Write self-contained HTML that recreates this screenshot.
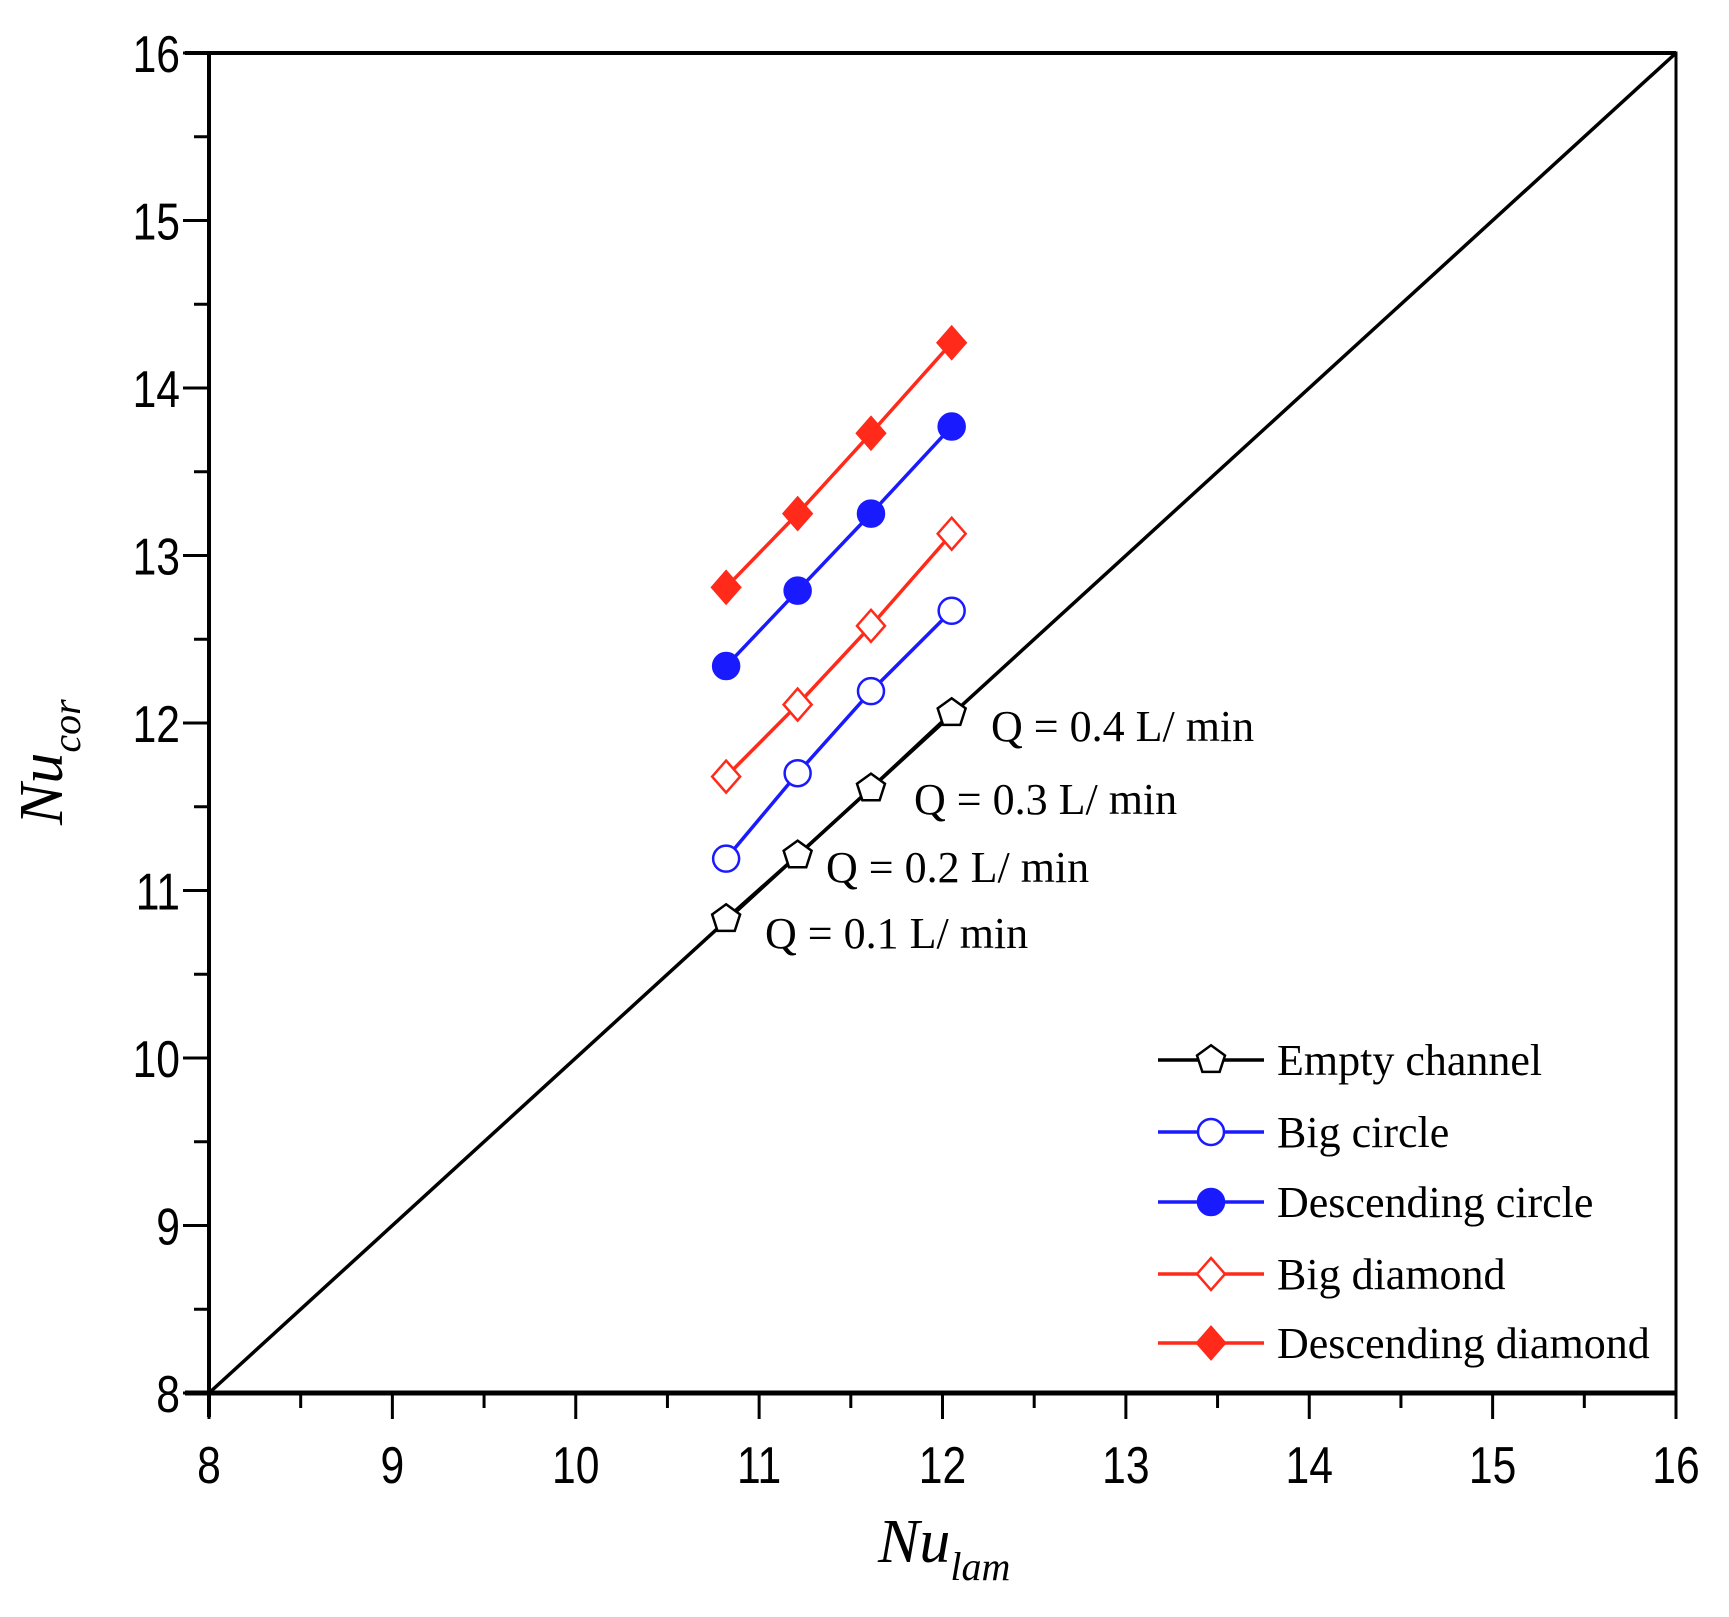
<!DOCTYPE html>
<html><head><meta charset="utf-8"><style>
body{margin:0;background:#fff}
svg text{font-family:"Liberation Serif",serif}
.tick{font-family:"Liberation Sans",sans-serif;font-size:52px}
</style></head><body>
<svg id="chart" width="1729" height="1612" xmlns="http://www.w3.org/2000/svg">
<g id="axes"></g>
<g id="series"></g>
<g id="legend"></g>
</svg>
<script>
const xTicks=[8,9,10,11,12,13,14,15,16];
const yTicks=[8,9,10,11,12,13,14,15,16];
const xVals=[10.82,11.21,11.61,12.05];
const emptyY=[10.83,11.21,11.61,12.06];
const bigCircleY=[11.19,11.70,12.19,12.67];
const descCircleY=[12.34,12.79,13.25,13.77];
const bigDiamondY=[11.68,12.11,12.58,13.13];
const descDiamondY=[12.81,13.25,13.73,14.27];
const flowLabels=["Q = 0.1 L/ min","Q = 0.2 L/ min","Q = 0.3 L/ min","Q = 0.4 L/ min"];
const seriesNames=["Empty channel","Big circle","Descending circle","Big diamond","Descending diamond"];

const L=209,R=1676,T=53,B=1393;
const X=v=>L+(v-8)/8*(R-L);
const Y=v=>B-(v-8)/8*(B-T);
const NS="http://www.w3.org/2000/svg";
function mk(tag,attrs,parent){const e=document.createElementNS(NS,tag);for(const k in attrs)e.setAttribute(k,attrs[k]);parent.appendChild(e);return e;}
const ax=document.getElementById('axes'),sg=document.getElementById('series'),lg=document.getElementById('legend');

let fr=mk('rect',{x:L,y:T,width:R-L,height:B-T,fill:'none',stroke:'#000','stroke-width':3},ax);


let bl=mk('line',{x1:L-24,y1:B,x2:R,y2:B,stroke:'#000','stroke-width':5},ax);


let tl=mk('line',{x1:L-24,y1:T,x2:R,y2:T,stroke:'#000','stroke-width':4},ax);


let ll=mk('line',{x1:L,y1:T,x2:L,y2:B+24,stroke:'#000','stroke-width':4},ax);


let dg=mk('line',{x1:X(8),y1:Y(8),x2:X(16),y2:Y(16),stroke:'#000','stroke-width':3.5},ax);


for(let v=8;v<=16;v+=0.5){
  const maj=Number.isInteger(v);
  let t=mk('line',{x1:X(v),y1:B,x2:X(v),y2:B+(maj?26:15),stroke:'#000','stroke-width':3},ax);
  
  
  let u=mk('line',{x1:L,y1:Y(v),x2:L-(maj?26:15),y2:Y(v),stroke:'#000','stroke-width':3},ax);
  
  
}
xTicks.forEach(v=>{let t=mk('text',{x:0,y:0,'text-anchor':'middle',class:'tick',transform:`translate(${X(v)},1483) scale(0.82,1)`},ax);t.textContent=v;
  
  });
yTicks.forEach(v=>{let t=mk('text',{x:0,y:0,'text-anchor':'end',class:'tick',transform:`translate(180,${Y(v)+19}) scale(0.82,1)`},ax);t.textContent=v;
  
  });
let xt=mk('text',{x:878,y:1562,'font-size':62,'font-style':'italic'},ax);
xt.innerHTML='Nu<tspan font-size="40" dy="18">lam</tspan>';


let yt=mk('text',{x:0,y:0,'font-size':62,'font-style':'italic',transform:'translate(62,825) rotate(-90)'},ax);
yt.innerHTML='Nu<tspan font-size="40" dy="18">cor</tspan>';



function marker(type,cx,cy,color,parent){
  const r=14;
  if(type==='pent'){let p=[];for(let i=0;i<5;i++){const a=-Math.PI/2+i*2*Math.PI/5;p.push((cx+r*1.05*Math.cos(a))+','+(cy+r*1.05*Math.sin(a)));}
    return mk('polygon',{points:p.join(' '),fill:'#fff',stroke:color,'stroke-width':2.5},parent);}
  if(type==='circ'||type==='circF')return mk('circle',{cx,cy,r:13,fill:type==='circF'?color:'#fff',stroke:color,'stroke-width':2.5},parent);
  return mk('polygon',{points:`${cx},${cy-16} ${cx+14},${cy} ${cx},${cy+16} ${cx-14},${cy}`,fill:type==='diaF'?color:'#fff',stroke:color,'stroke-width':2.5},parent);
}
const defs=[[emptyY,'#000','pent'],[bigCircleY,'#1a1aff','circ'],[descCircleY,'#1a1aff','circF'],[bigDiamondY,'#ff2a1a','dia'],[descDiamondY,'#ff2a1a','diaF']];
defs.forEach((d,si)=>{
  const g=mk('g',{},sg);
  
  
  const pts=xVals.map((x,i)=>X(x)+','+Y(d[0][i])).join(' ');
  let pl=mk('polyline',{points:pts,fill:'none',stroke:d[1],'stroke-width':3.5},g);
  
  
  xVals.forEach((x,i)=>{let m=marker(d[2],X(x),Y(d[0][i]),d[1],g);
    
    });
});
const lblPos=[[765,948],[826,882],[914,814],[991,741]];
flowLabels.forEach((s,i)=>{let t=mk('text',{x:lblPos[i][0],y:lblPos[i][1],'font-size':44},sg);t.textContent=s;
  
  });
const ly=[1060,1132,1202,1274,1343];
defs.forEach((d,i)=>{
  const g=mk('g',{},lg);
  
  
  mk('line',{x1:1158,y1:ly[i],x2:1264,y2:ly[i],stroke:d[1],'stroke-width':3.5},g);
  marker(d[2],1211,ly[i],d[1],g);
  let t=mk('text',{x:1277,y:ly[i]+15,'font-size':44},g);t.textContent=seriesNames[i];
});
</script>
</body></html>
